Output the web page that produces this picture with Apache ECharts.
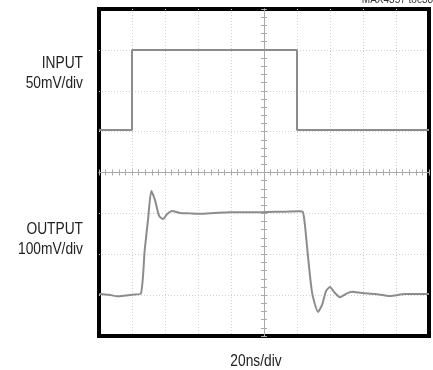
<!DOCTYPE html>
<html>
<head>
<meta charset="utf-8">
<script src="https://cdn.jsdelivr.net/npm/echarts@6/dist/echarts.min.js"></script>
<style>
  html, body { margin: 0; padding: 0; background: #fff; }
  #chart { width: 433px; height: 370px; }
</style>
</head>
<body>
<div id="chart"></div>
<script>
// Scope settings: 10 horizontal divisions of 20 ns, 8 vertical divisions
const timePerDiv = 20;          // ns/div
const inputScale = 50;          // mV/div
const outputScale = 100;        // mV/div
const inputOffsetDiv = 1;       // input trace ground position (divisions from centre)
const outputOffsetDiv = -3;     // output trace ground position

// Input pulse (time in ns, level in mV)
const inputTime = [0, 20, 20, 120, 120, 200];
const inputMv   = [2, 2, 100, 100, 2, 2];

// Output response (time in ns, level in mV)
const outputTime = [0, 6, 11.5, 16, 20, 25.3, 27.7, 29.7, 31.7, 33.9, 36.4, 38.8, 41.2, 44.2, 49,
  55, 61.2, 70, 79.4, 90, 99.4, 110, 121.8, 123.6, 124.8, 126.7, 128.5, 129.7, 132.7, 135.2,
  137.6, 140, 142.4, 146, 149.7, 153.3, 159.4, 167.3, 176.4, 185.5, 193, 200];
const outputMv = [3, 1, -3, -1, 1, 3, 110, 184, 255, 233, 194, 186, 198, 206, 201,
  200, 199, 201, 203, 203, 203, 204, 205, 203, 172, 93, 25, -5, -41, -24,
  10, 20, 8, -5, 3, 8, 5, 3, -2, 3, 3, 3];

const labels = {
  input: ['INPUT', '50mV/div'],
  output: ['OUTPUT', '100mV/div'],
  time: '20ns/div',
  tag: 'MAX4357 toc38'
};

const toDiv = (mv, scale, offset) => mv / scale + offset;
const inputData = inputTime.map((t, i) => [t, toDiv(inputMv[i], inputScale, inputOffsetDiv)]);
const outputData = outputTime.map((t, i) => [t, toDiv(outputMv[i], outputScale, outputOffsetDiv)]);

const font = "16px 'Liberation Sans', Arial, sans-serif";
const gridLine = { show: true, showMinLine: false, showMaxLine: false,
  lineStyle: { color: '#d2d2d2', type: [1, 2], width: 1 } };
const centreTicks = {
  axisLine: { show: true, onZero: true, lineStyle: { color: '#aaaaaa', width: 1 } },
  axisTick: { show: true, inside: true, length: 3, lineStyle: { color: '#aaaaaa' } },
  minorTick: { show: true, splitNumber: 5, length: 3, lineStyle: { color: '#aaaaaa' } },
  axisLabel: { show: false }
};

// Right-aligned side label, condensed horizontally
function sideText(text, y) {
  return { type: 'text', x: 83, y: y, scaleX: 0.86, originX: 0, z: 10,
    style: { text: text, align: 'right', verticalAlign: 'middle', font: font, fill: '#222' } };
}

const chart = echarts.init(document.getElementById('chart'), null, { renderer: 'canvas' });
chart.setOption({
  animation: false,
  backgroundColor: '#fff',
  grid: {
    left: 99, top: 9, width: 330, height: 327,
    show: true, borderColor: '#000', borderWidth: 4, backgroundColor: 'transparent'
  },
  xAxis: [
    Object.assign({ type: 'value', min: 0, max: timePerDiv * 10, interval: timePerDiv,
      position: 'bottom', splitLine: gridLine }, centreTicks),
    Object.assign({ type: 'value', min: 0, max: timePerDiv * 10, interval: timePerDiv,
      position: 'top', splitLine: { show: false } }, centreTicks)
  ],
  yAxis: [
    Object.assign({ type: 'value', min: -4, max: 4, interval: 1, position: 'left',
      offset: -165, splitLine: gridLine }, centreTicks),
    Object.assign({ type: 'value', min: -4, max: 4, interval: 1, position: 'right',
      offset: -165, splitLine: { show: false } }, centreTicks)
  ],
  series: [
    { name: 'input', type: 'line', data: inputData, showSymbol: false, smooth: false,
      lineStyle: { color: '#8c8c8c', width: 2 }, z: 5 },
    { name: 'output', type: 'line', data: outputData, showSymbol: false, smooth: 0.2,
      lineStyle: { color: '#8c8c8c', width: 2 }, z: 5 }
  ],
  graphic: [
    sideText(labels.input[0], 64),
    sideText(labels.input[1], 84),
    sideText(labels.output[0], 230),
    sideText(labels.output[1], 250),
    { type: 'text', x: 256, y: 362, scaleX: 0.86, z: 10,
      style: { text: labels.time, align: 'center', verticalAlign: 'middle', font: font, fill: '#222' } },
    { type: 'text', x: 433, y: -5, z: 10,
      style: { text: labels.tag, align: 'right', font: "10px 'Liberation Sans', Arial, sans-serif", fill: '#333' } }
  ]
});
</script>
</body>
</html>
